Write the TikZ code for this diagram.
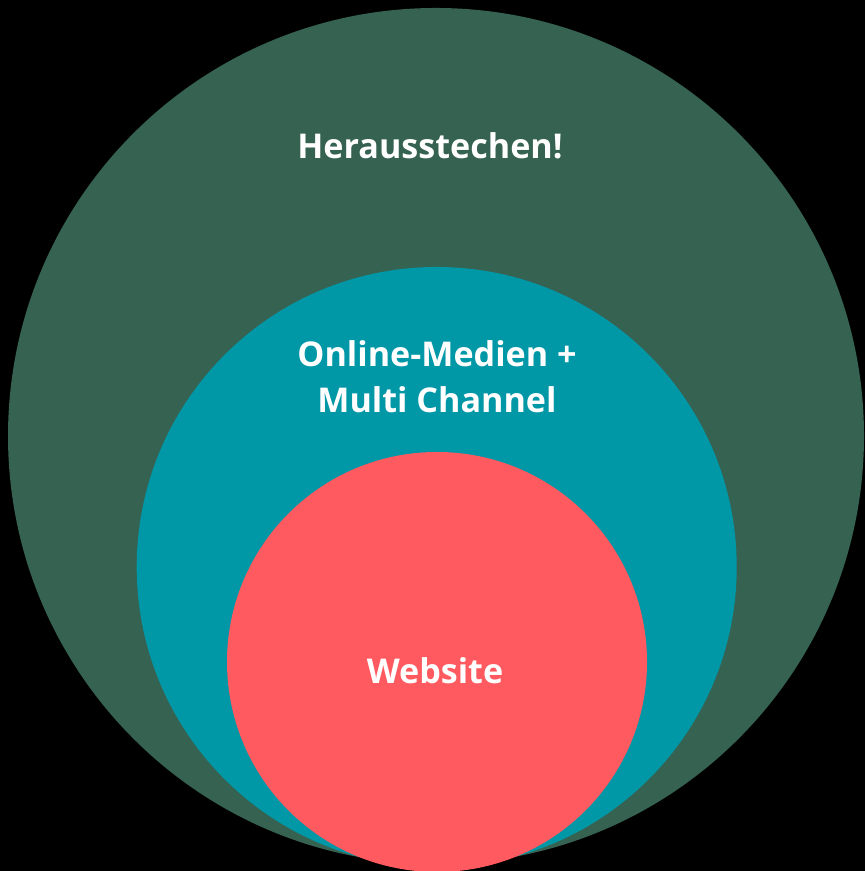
\documentclass[tikz,border=0pt]{standalone}
\usepackage{fontspec}
\setmainfont{Open Sans}
\usepackage{xcolor}
\definecolor{ringgreen}{RGB}{54,98,82}
\definecolor{ringteal}{RGB}{0,151,167}
\definecolor{ringred}{RGB}{255,90,95}

\begin{document}
\begin{tikzpicture}[x=0.01cm,y=0.01cm,
    ringtext/.style={text=white,anchor=base,align=center,inner sep=0pt,
                     font=\bfseries\fontsize{9.7}{13.1}\selectfont}]
            \useasboundingbox[fill=black] (0,0) rectangle (865,871);
            % the three rings, outside in
            \fill[ringgreen] (436,435) circle (428);
            \fill[ringteal] (436.7,304) circle (300);
            \fill[ringred] (437,209) circle (210);
            % labels
            \node[ringtext] (stand) at (430,712.3) {Herausstechen!};
            \node[ringtext] (online) at (437,458.3) {Online-Medien +\\Multi Channel};
            \node[ringtext] (web) at (435,187.7) {Website};
        \end{tikzpicture}
\end{document}
